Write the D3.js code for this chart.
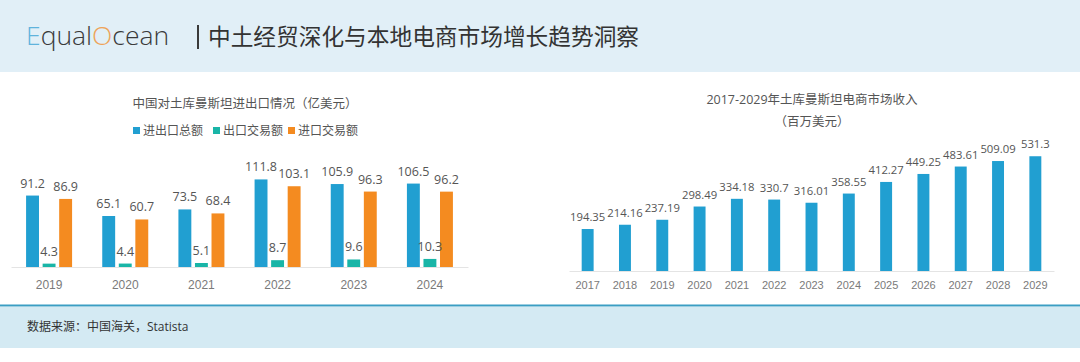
<!DOCTYPE html>
<html>
<head>
<meta charset="utf-8">
<script src="https://cdn.jsdelivr.net/npm/d3@7"></script>
<style>
  body { margin: 0; background: #fff; }
  svg { display: block; font-family: "Open Sans", "Noto Sans CJK SC", sans-serif; }
  .axis text { fill: #7a7a7a; font-size: 12px; }
  .axis path { stroke: #e4e4e4; }
  .val { fill: #555; font-size: 12.5px; text-anchor: middle; }
</style>
</head>
<body>
<div id="chart"></div>
<script>
// left chart data (亿美元)
var tradeYears = ["2019", "2020", "2021", "2022", "2023", "2024"];
var tradeSeries = ["进出口总额", "出口交易额", "进口交易额"];
var totalTrade = [91.2, 65.1, 73.5, 111.8, 105.9, 106.5];
var exportTrade = [4.3, 4.4, 5.1, 8.7, 9.6, 10.3];
var importTrade = [86.9, 60.7, 68.4, 103.1, 96.3, 96.2];

// right chart data (百万美元)
var ecomYears = ["2017", "2018", "2019", "2020", "2021", "2022", "2023", "2024", "2025", "2026", "2027", "2028", "2029"];
var ecomRevenue = [194.35, 214.16, 237.19, 298.49, 334.18, 330.7, 316.01, 358.55, 412.27, 449.25, 483.61, 509.09, 531.3];
var ecomLabels = ["194.35", "214.16", "237.19", "298.49", "334.18", "330.7", "316.01", "358.55", "412.27", "449.25", "483.61", "509.09", "531.3"];

var W = 1080, H = 362;
var color = d3.scaleOrdinal()
    .domain(tradeSeries)
    .range(["#219fd1", "#19b5a7", "#f48b20"]);

var svg = d3.select("#chart").append("svg")
    .attr("width", W)
    .attr("height", H);

// BACKGROUND BANDS

svg.append("rect").attr("x", 0).attr("y", 0).attr("width", W).attr("height", 72).attr("fill", "#e1eff7");
svg.append("rect").attr("x", 0).attr("y", 307).attr("width", W).attr("height", 41).attr("fill", "#d4eaf3");
svg.append("rect").attr("x", 0).attr("y", 304.5).attr("width", W).attr("height", 2).attr("fill", "#3b9ec3");

// HEADER

var logo = svg.append("text")
    .attr("x", 26)
    .attr("y", 45)
    .style("font-size", "26.5px")
    .style("font-weight", 300)
    .style("fill", "#3a3a3a");
logo.append("tspan").style("fill", "#5fb3dc").text("E");
logo.append("tspan").text("qual");
logo.append("tspan").style("fill", "#eea45a").text("O");
logo.append("tspan").text("cean");

svg.append("rect").attr("x", 197).attr("y", 25).attr("width", 2).attr("height", 24).attr("fill", "#3a3a3a");

svg.append("text")
    .attr("x", 208)
    .attr("y", 45)
    .style("font-size", "22.7px")
    .style("fill", "#333")
    .text("中土经贸深化与本地电商市场增长趋势洞察");

// FOOTER

svg.append("text")
    .attr("x", 27)
    .attr("y", 331)
    .style("font-size", "12px")
    .style("fill", "#333")
    .text("数据来源：中国海关，Statista");

// LEFT CHART

var x0 = d3.scaleBand().domain(tradeYears).range([11, 468]);
var x1 = d3.scaleBand().domain(tradeSeries).range([0, 46]).paddingInner(0.22);
var yL = d3.scaleLinear().domain([0, 120]).range([267, 173]);

svg.append("text")
    .attr("x", 245)
    .attr("y", 108)
    .style("font-size", "12.5px")
    .style("fill", "#555")
    .style("text-anchor", "middle")
    .text("中国对土库曼斯坦进出口情况（亿美元）");

var legend = svg.append("g").attr("transform", "translate(133,131)");
var legendX = [0, 80, 155];
tradeSeries.forEach(function(s, i) {
    var g = legend.append("g").attr("transform", "translate(" + legendX[i] + ",0)");
    g.append("rect").attr("x", 0).attr("y", -4).attr("width", 7).attr("height", 7).attr("fill", color(s));
    g.append("text").attr("x", 10).attr("y", 4).style("font-size", "12px").style("fill", "#555").text(s);
});

var tradeRows = tradeYears.map(function(y, i) {
    return { year: y, values: [
        { name: tradeSeries[0], value: totalTrade[i] },
        { name: tradeSeries[1], value: exportTrade[i] },
        { name: tradeSeries[2], value: importTrade[i] }
    ]};
});

var grp = svg.selectAll(".grp")
    .data(tradeRows)
    .enter().append("g")
    .attr("class", "grp")
    .attr("transform", function(d) { return "translate(" + (x0(d.year) + x0.bandwidth() / 2 - 23) + ",0)"; });

grp.selectAll("rect")
    .data(function(d) { return d.values; })
    .enter().append("rect")
    .attr("x", function(d) { return x1(d.name); })
    .attr("width", x1.bandwidth())
    .attr("y", function(d) { return yL(d.value); })
    .attr("height", function(d) { return yL(0) - yL(d.value); })
    .attr("fill", function(d) { return color(d.name); });

grp.selectAll(".val")
    .data(function(d) { return d.values; })
    .enter().append("text")
    .attr("class", "val")
    .attr("x", function(d) { return x1(d.name) + x1.bandwidth() / 2; })
    .attr("y", function(d) { return yL(d.value) - 8; })
    .text(function(d) { return d3.format(".1f")(d.value); });

svg.append("g")
    .attr("class", "axis")
    .attr("transform", "translate(0,267)")
    .call(d3.axisBottom(x0).tickSize(0).tickPadding(13))
    .call(function(g) { g.selectAll("text").attr("dy", "0.71em"); });

// RIGHT CHART

var xR = d3.scaleBand().domain(ecomYears).range([569, 1054]).paddingInner(0.68).paddingOuter(0.34);
var yR = d3.scaleLinear().domain([0, 600]).range([271, 141.4]);

svg.append("text")
    .attr("x", 812)
    .attr("y", 104)
    .style("font-size", "12.5px")
    .style("fill", "#555")
    .style("text-anchor", "middle")
    .text("2017-2029年土库曼斯坦电商市场收入");

svg.append("text")
    .attr("x", 812)
    .attr("y", 126)
    .style("font-size", "12.5px")
    .style("fill", "#555")
    .style("text-anchor", "middle")
    .text("（百万美元）");

svg.selectAll(".ebar")
    .data(ecomRevenue)
    .enter().append("rect")
    .attr("class", "ebar")
    .attr("x", function(d, i) { return xR(ecomYears[i]); })
    .attr("width", xR.bandwidth())
    .attr("y", function(d) { return yR(d); })
    .attr("height", function(d) { return yR(0) - yR(d); })
    .attr("fill", "#219fd1");

svg.selectAll(".eval")
    .data(ecomRevenue)
    .enter().append("text")
    .attr("class", "val")
    .style("font-size", "11.3px")
    .attr("x", function(d, i) { return xR(ecomYears[i]) + xR.bandwidth() / 2; })
    .attr("y", function(d) { return yR(d) - 8; })
    .text(function(d, i) { return ecomLabels[i]; });

svg.append("g")
    .attr("class", "axis")
    .attr("transform", "translate(0,271)")
    .call(d3.axisBottom(xR).tickSize(0).tickPadding(10))
    .call(function(g) { g.selectAll("text").style("font-size", "11px"); });
</script>
</body>
</html>
